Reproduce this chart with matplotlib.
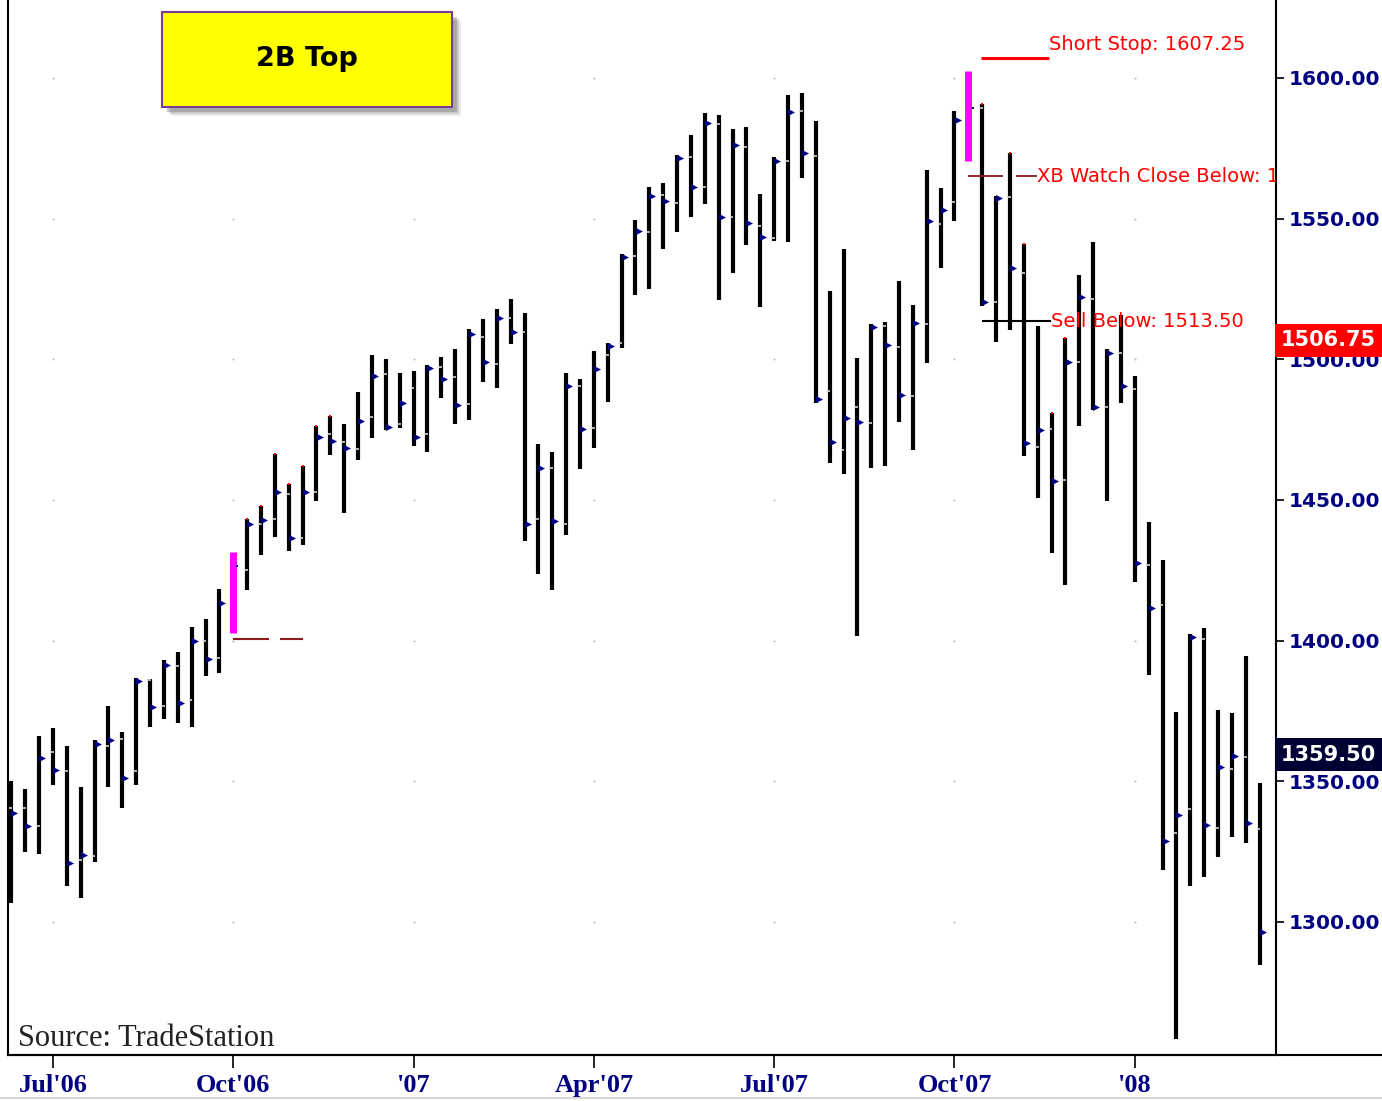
import numpy as np
import matplotlib
matplotlib.use("Agg")
import matplotlib.pyplot as plt
from matplotlib.patches import Rectangle
from matplotlib.lines import Line2D
import matplotlib.transforms as mtransforms

# weekly bars, index 0 = first week of Jul'06
first_idx = -3
opens = [1340.4, 1340.4, 1334.2, 1360.5, 1353.6, 1322.0, 1323.4, 1362.5, 1364.9, 1353.6,
         1386.0, 1376.7, 1391.0, 1378.9, 1399.9, 1393.7, 1413.5, 1425.1, 1441.3, 1443.1,
         1452.0, 1436.6, 1452.9, 1473.4, 1470.5, 1468.0, 1479.6, 1494.7, 1477.0, 1489.7,
         1473.4, 1497.4, 1493.8, 1484.1, 1508.0, 1498.2, 1514.8, 1509.8, 1443.1, 1461.2,
         1441.3, 1490.6, 1475.5, 1501.5, 1505.7, 1536.7, 1545.4, 1558.4, 1555.7, 1572.0,
         1561.4, 1583.5, 1550.4, 1575.6, 1547.5, 1543.0, 1570.5, 1588.4, 1572.3, 1488.8,
         1467.8, 1483.2, 1477.3, 1511.9, 1504.2, 1487.0, 1512.6, 1548.0, 1555.8, 1585.5,
         1589.4, 1520.3, 1557.5, 1530.6, 1468.9, 1475.2, 1457.0, 1498.9, 1521.5, 1483.2,
         1502.4, 1489.5, 1426.9, 1412.8, 1331.7, 1340.2, 1400.7, 1333.3, 1354.2, 1358.6,
         1333.0]
highs = [1350.1, 1347.1, 1366.2, 1369.0, 1362.6, 1347.8, 1364.7, 1376.9, 1367.6, 1386.7,
         1386.2, 1393.1, 1395.8, 1405.0, 1407.8, 1418.3, 1431.6, 1443.1, 1447.9, 1466.3,
         1455.7, 1462.1, 1476.3, 1479.8, 1476.9, 1488.3, 1501.5, 1500.1, 1495.2, 1496.0,
         1498.0, 1500.9, 1503.7, 1510.8, 1514.2, 1517.8, 1521.3, 1516.3, 1469.8, 1466.9,
         1495.0, 1493.0, 1502.9, 1505.7, 1537.4, 1549.5, 1561.4, 1562.8, 1572.6, 1579.7,
         1587.4, 1586.8, 1581.9, 1582.5, 1558.7, 1572.0, 1594.0, 1594.5, 1584.7, 1524.3,
         1539.1, 1500.4, 1512.4, 1513.1, 1527.9, 1519.4, 1567.3, 1560.7, 1588.3, 1602.3,
         1590.8, 1557.9, 1573.3, 1541.0, 1511.7, 1480.8, 1507.4, 1529.9, 1541.8, 1503.8,
         1515.9, 1494.1, 1442.2, 1428.8, 1374.6, 1402.2, 1404.3, 1375.4, 1374.1, 1394.5,
         1349.3]
lows = [1306.6, 1324.7, 1324.1, 1348.7, 1312.8, 1308.6, 1321.4, 1348.1, 1340.4, 1348.7,
        1369.4, 1372.0, 1370.6, 1369.4, 1387.5, 1388.4, 1402.6, 1418.0, 1430.4, 1437.0,
        1432.0, 1434.0, 1449.6, 1465.8, 1445.3, 1464.2, 1471.9, 1474.9, 1475.5, 1469.3,
        1467.2, 1486.4, 1477.0, 1478.4, 1491.8, 1489.7, 1505.3, 1435.4, 1423.6, 1418.0,
        1437.5, 1460.9, 1468.6, 1484.7, 1503.9, 1522.9, 1524.9, 1539.1, 1545.4, 1550.4,
        1555.2, 1520.9, 1530.8, 1540.6, 1518.7, 1542.1, 1541.8, 1564.6, 1484.4, 1463.3,
        1459.1, 1401.6, 1461.5, 1462.2, 1477.6, 1467.8, 1498.6, 1532.4, 1549.1, 1570.5,
        1518.9, 1506.3, 1510.5, 1465.6, 1450.7, 1431.1, 1419.8, 1476.2, 1481.8, 1449.5,
        1484.6, 1421.0, 1387.7, 1318.6, 1258.3, 1312.9, 1315.9, 1323.0, 1330.1, 1328.0,
        1284.7]
closes = [1338.6, 1334.2, 1358.1, 1354.0, 1320.8, 1323.7, 1363.2, 1364.5, 1351.0, 1385.7,
          1376.5, 1391.3, 1377.9, 1399.9, 1393.5, 1413.2, 1426.6, 1441.3, 1442.9, 1452.7,
          1436.6, 1452.7, 1472.5, 1471.1, 1468.4, 1478.1, 1494.2, 1476.1, 1484.4, 1472.5,
          1497.0, 1492.9, 1483.8, 1509.0, 1499.2, 1514.8, 1509.8, 1441.3, 1461.3, 1442.6,
          1490.6, 1475.2, 1496.4, 1504.8, 1536.5, 1545.6, 1558.2, 1556.3, 1571.7, 1561.1,
          1583.9, 1550.7, 1576.0, 1548.6, 1543.6, 1570.5, 1588.0, 1573.2, 1485.8, 1470.6,
          1479.0, 1477.6, 1511.5, 1504.9, 1487.4, 1512.9, 1549.3, 1552.9, 1585.2, 1589.4,
          1520.3, 1557.2, 1532.5, 1470.2, 1474.8, 1456.8, 1498.9, 1522.0, 1483.2, 1502.4,
          1490.5, 1427.5, 1411.7, 1328.8, 1337.9, 1401.4, 1334.5, 1354.9, 1359.1, 1335.3,
          1296.3]

signal_bars = [13, 66]                       # magenta 2B bars
red_top_bars = [14, 15, 16, 17, 18, 19, 20, 67, 69, 70, 72, 73]

xtick_pos = [0, 13, 26, 39, 52, 65, 78]
xtick_labels = ["Jul'06", "Oct'06", "'07", "Apr'07", "Jul'07", "Oct'07", "'08"]
ytick_vals = [1300, 1350, 1400, 1450, 1500, 1550, 1600]

short_stop = 1607.25
xb_watch = 1565.0
sell_below = 1513.50
ref_2b = 1400.5
last_red = 1506.75
last_dark = 1359.50

W, H = 1382, 1101
fig = plt.figure(figsize=(W / 100, H / 100), dpi=100)
ax = fig.add_axes([8 / W, 46 / H, 1268 / W, 1055 / H])
ax.set_xlim(-3.24, 88.18)
ax.set_ylim(1252.7, 1627.7)

x = np.arange(len(opens)) + first_idx
o = np.array(opens); hi = np.array(highs); lo = np.array(lows); c = np.array(closes)
sig = np.isin(x, signal_bars)

# grid dots
gx, gy = np.meshgrid(xtick_pos, ytick_vals)
ax.scatter(gx.ravel(), gy.ravel(), s=2, color="#b8b8b8", zorder=1, linewidths=0)

# bars
ax.vlines(x[~sig], lo[~sig], hi[~sig], color="black", lw=3.0, zorder=2)
ax.vlines(x[sig], lo[sig], hi[sig], color="#ff00ff", lw=5.0, zorder=2)
ax.hlines(o[~sig], x[~sig] - 0.2, x[~sig] + 0.06, color="#d4d4d4", lw=1.2, zorder=3)
ax.scatter(x[~sig] + 0.22, c[~sig], marker=">", s=26, color="#000080", zorder=4, linewidths=0)
ax.scatter(x[sig] + 0.3, c[sig], marker="s", s=2, color="#000080", zorder=4, linewidths=0)
rt = np.isin(x, red_top_bars)
ax.scatter(x[rt], hi[rt], marker="s", s=3, color="red", zorder=4, linewidths=0)

# 2B reference line (dashed, dark red)
ax.hlines([ref_2b, ref_2b], [13.0, 16.4], [15.6, 18.0], color="#8b1a1a", lw=1.5, zorder=3)

# short stop
ax.hlines(short_stop, 66.9, 71.8, color="red", lw=2.2, zorder=3)
ax.text(71.8, short_stop + 4.6, "Short Stop: 1607.25", color="red", fontsize=14,
        va="center", ha="left", zorder=5)

# XB watch
ax.hlines([xb_watch, xb_watch], [66.0, 69.4], [68.5, 70.95], color="#8b1a1a", lw=1.3, zorder=3)
ax.text(70.95, xb_watch, "XB Watch Close Below: 1", color="red", fontsize=14,
        va="center", ha="left", zorder=5, clip_on=True)

# sell below
ax.hlines(sell_below, 67.0, 71.95, color="black", lw=1.5, zorder=5)
ax.text(71.95, sell_below, "Sell Below: 1513.50", color="red", fontsize=14,
        va="center", ha="left", zorder=5)

ax.text(0.008, 0.002, "Source: TradeStation", transform=ax.transAxes, fontsize=22,
        family="Liberation Serif", color="#222222", ha="left", va="bottom")

# axes styling
ax.spines["top"].set_visible(False)
ax.spines["left"].set_linewidth(1.5)
ax.spines["right"].set_linewidth(1.5)
ax.spines["bottom"].set_linewidth(1.5)

ax.yaxis.tick_right()
ax.set_yticks(ytick_vals)
ax.set_yticklabels([f"{v:.2f}" for v in ytick_vals])
ax.tick_params(axis="y", direction="out", length=6, width=1.2, pad=3,
               labelsize=14.5, labelcolor="#000080")
for t in ax.get_yticklabels():
    t.set_fontweight("bold")

ax.set_xticks(xtick_pos)
ax.set_xticklabels(xtick_labels)
ax.tick_params(axis="x", direction="out", length=9, width=1.2, pad=5,
               labelsize=19, labelcolor="#000080")
for t in ax.get_xticklabels():
    t.set_fontweight("bold")
    t.set_family("Liberation Serif")

# price flags on right axis
trans = mtransforms.blended_transform_factory(ax.transAxes, ax.transData)
ax.text(1.004, last_red, "1506.75", transform=trans, color="white", fontsize=15,
        fontweight="bold", ha="left", va="center", zorder=10, clip_on=False,
        bbox=dict(boxstyle="square,pad=0.3", fc="#ff0000", ec="none"))
ax.text(1.004, last_dark, "1359.50", transform=trans, color="white", fontsize=15,
        fontweight="bold", ha="left", va="center", zorder=10, clip_on=False,
        bbox=dict(boxstyle="square,pad=0.3", fc="#000033", ec="none"))

# bottom line extends to right edge
fig.add_artist(Line2D([8 / W, 1.0], [46 / H, 46 / H], color="black", lw=1.5))
fig.add_artist(Line2D([0, 1.0], [3 / H, 3 / H], color="#d8d8d8", lw=1.5))

# 2B Top box with soft shadow
bx0, by0, bw, bh = 162, 12, 290, 95
for k, a in [(9, 0.12), (7, 0.2), (5, 0.3)]:
    fig.add_artist(Rectangle(((bx0 + k) / W, (H - by0 - bh - k) / H), bw / W, bh / H,
                             transform=fig.transFigure, fc="#555555", ec="none", alpha=a))
fig.add_artist(Rectangle((bx0 / W, (H - by0 - bh) / H), bw / W, bh / H,
                         transform=fig.transFigure, fc="#ffff00", ec="#7a3d8f", lw=1.5))
fig.text((bx0 + bw / 2) / W, (H - by0 - bh / 2) / H, "2B Top", fontsize=19.5,
         fontweight="bold", ha="center", va="center", color="black")

fig.savefig("out.png", dpi=100, facecolor="white")
